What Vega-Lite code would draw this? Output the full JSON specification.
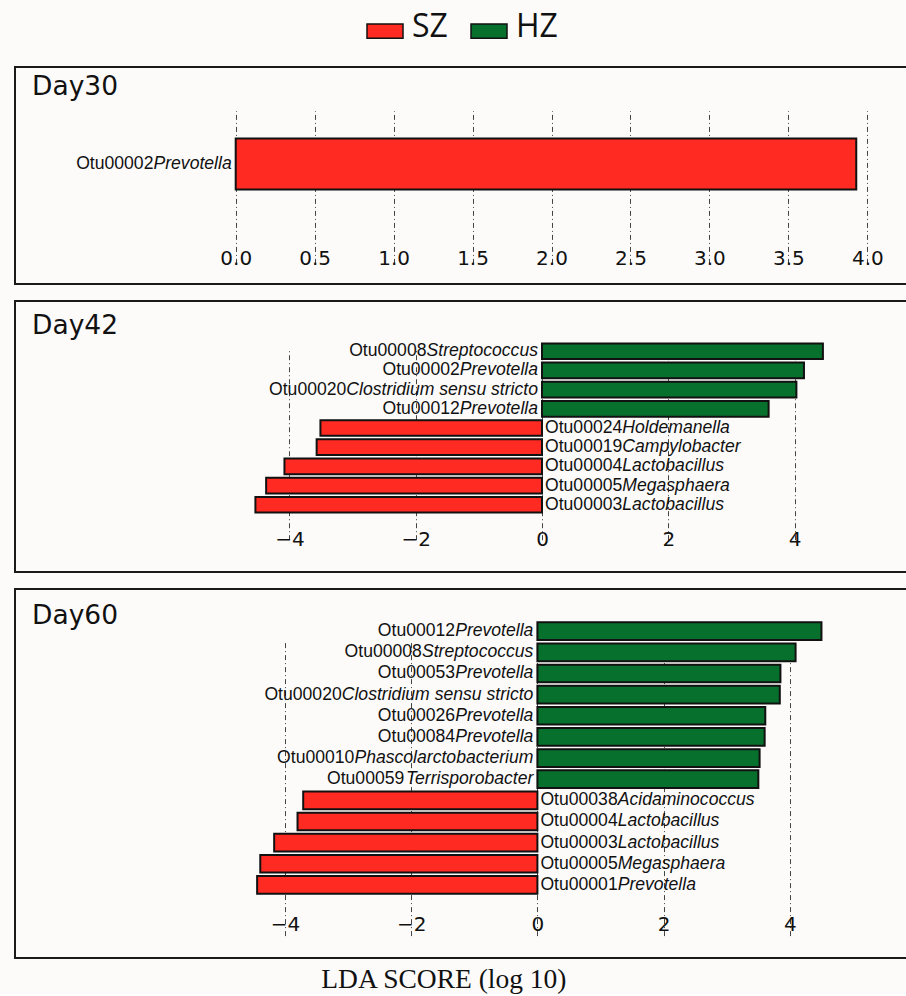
{
  "$schema": "https://vega.github.io/schema/vega-lite/v6.json",
  "background": "#fcfbfa",
  "padding": {"left": 14, "top": 8, "right": 0, "bottom": 0},
  "datasets": {
    "lefse": [
      {"day": "Day30", "otu": "Otu00002", "genus": "Prevotella", "lda": 3.93, "group": "SZ"},
      {"day": "Day42", "otu": "Otu00008", "genus": "Streptococcus", "lda": 4.45, "group": "HZ"},
      {"day": "Day42", "otu": "Otu00002", "genus": "Prevotella", "lda": 4.15, "group": "HZ"},
      {"day": "Day42", "otu": "Otu00020", "genus": "Clostridium sensu stricto", "lda": 4.03, "group": "HZ"},
      {"day": "Day42", "otu": "Otu00012", "genus": "Prevotella", "lda": 3.59, "group": "HZ"},
      {"day": "Day42", "otu": "Otu00024", "genus": "Holdemanella", "lda": -3.51, "group": "SZ"},
      {"day": "Day42", "otu": "Otu00019", "genus": "Campylobacter", "lda": -3.57, "group": "SZ"},
      {"day": "Day42", "otu": "Otu00004", "genus": "Lactobacillus", "lda": -4.08, "group": "SZ"},
      {"day": "Day42", "otu": "Otu00005", "genus": "Megasphaera", "lda": -4.37, "group": "SZ"},
      {"day": "Day42", "otu": "Otu00003", "genus": "Lactobacillus", "lda": -4.54, "group": "SZ"},
      {"day": "Day60", "otu": "Otu00012", "genus": "Prevotella", "lda": 4.50, "group": "HZ"},
      {"day": "Day60", "otu": "Otu00008", "genus": "Streptococcus", "lda": 4.09, "group": "HZ"},
      {"day": "Day60", "otu": "Otu00053", "genus": "Prevotella", "lda": 3.85, "group": "HZ"},
      {"day": "Day60", "otu": "Otu00020", "genus": "Clostridium sensu stricto", "lda": 3.84, "group": "HZ"},
      {"day": "Day60", "otu": "Otu00026", "genus": "Prevotella", "lda": 3.61, "group": "HZ"},
      {"day": "Day60", "otu": "Otu00084", "genus": "Prevotella", "lda": 3.60, "group": "HZ"},
      {"day": "Day60", "otu": "Otu00010", "genus": "Phascolarctobacterium", "lda": 3.52, "group": "HZ"},
      {"day": "Day60", "otu": "Otu00059", "genus": "Terrisporobacter", "lda": 3.50, "group": "HZ"},
      {"day": "Day60", "otu": "Otu00038", "genus": "Acidaminococcus", "lda": -3.71, "group": "SZ"},
      {"day": "Day60", "otu": "Otu00004", "genus": "Lactobacillus", "lda": -3.80, "group": "SZ"},
      {"day": "Day60", "otu": "Otu00003", "genus": "Lactobacillus", "lda": -4.17, "group": "SZ"},
      {"day": "Day60", "otu": "Otu00005", "genus": "Megasphaera", "lda": -4.39, "group": "SZ"},
      {"day": "Day60", "otu": "Otu00001", "genus": "Prevotella", "lda": -4.44, "group": "SZ"}
    ]
  },
  "data": {"name": "lefse"},
  "title": {
    "text": "LDA SCORE (log 10)",
    "orient": "bottom",
    "anchor": "middle",
    "font": "Liberation Serif",
    "fontSize": 27.5,
    "fontWeight": "normal",
    "color": "#111111",
    "baseline": "alphabetic",
    "offset": 28.6,
    "dx": -17.6
  },
  "spacing": 15,
  "vconcat": [
    {
      "width": 893,
      "height": 217,
      "transform": [{"filter": "datum.day == 'Day30'"}],
      "encoding": {
        "y": {"field": "otu", "type": "nominal", "sort": null,
              "axis": {"title": "Day30", "titleX": 16.5, "titleY": 27.3, "titleAngle": 0, "titleAlign": "left", "titleBaseline": "alphabetic", "titleFont": "DejaVu Sans", "titleFontSize": 26.5, "titleFontWeight": "normal", "titleColor": "#111111", "labels": false, "ticks": false, "domain": false, "grid": false},
              "scale": {"range": [20.6, 173.3], "paddingInner": 0, "paddingOuter": 3.376}}
      },
      "layer": [
        {
          "mark": {"type": "bar", "stroke": "#111111", "strokeWidth": 2},
          "encoding": {
            "x": {"field": "lda", "type": "quantitative",
                  "scale": {"domain": [-1.3977, 4.2577], "nice": false, "zero": false},
                  "axis": {"values": [0, 0.5, 1, 1.5, 2, 2.5, 3, 3.5, 4], "format": ".1f", "offset": -25.5, "title": null}},
            "x2": {"datum": 0},
            "color": {"field": "group", "type": "nominal",
                      "scale": {"domain": ["SZ", "HZ"], "range": ["#ff2b22", "#07702c"]},
                      "legend": {"title": null, "orient": "top", "direction": "horizontal", "symbolType": "M-1,-0.17H1V0.62H-1Z", "symbolSize": 1296, "symbolStrokeColor": "#111111", "symbolStrokeWidth": 1.5, "labelFont": "Open Sans", "labelFontSize": 32, "labelColor": "#111111", "labelOffset": 8, "columnPadding": 20, "offset": 23}}
          }
        },
        {
          "mark": {"type": "text", "font": "Liberation Sans", "fontSize": 17.6, "color": "#111111", "baseline": "middle",
                   "align": {"expr": "datum.lda > 0 ? 'right' : 'left'"},
                   "dx": {"expr": "datum.lda > 0 ? -4 - 17.6*(0.556*length(datum.genus) - 0.334*length(replace(datum.genus, regexp('[^ijl]','g'), '')) - 0.278*length(replace(datum.genus, regexp('[^ft ]','g'), '')) - 0.223*length(replace(datum.genus, regexp('[^r]','g'), '')) - 0.056*length(replace(datum.genus, regexp('[^cksvxyz]','g'), '')) + 0.277*length(replace(datum.genus, regexp('[^mM]','g'), '')) + 0.166*length(replace(datum.genus, regexp('[^CHw]','g'), '')) + 0.111*length(replace(datum.genus, regexp('[^SPA]','g'), '')) + 0.055*length(replace(datum.genus, regexp('[^T]','g'), ''))) : 3"}},
          "encoding": {"x": {"datum": 0}, "text": {"field": "otu"}}
        },
        {
          "mark": {"type": "text", "font": "Liberation Sans", "fontSize": 17.6, "fontStyle": "italic", "color": "#111111", "baseline": "middle",
                   "align": {"expr": "datum.lda > 0 ? 'right' : 'left'"},
                   "dx": {"expr": "datum.lda > 0 ? -4 : 80.3"}},
          "encoding": {"x": {"datum": 0}, "text": {"field": "genus"}}
        }
      ]
    },
    {
      "width": 893,
      "height": 271,
      "transform": [{"filter": "datum.day == 'Day42'"}],
      "encoding": {
        "y": {"field": "otu", "type": "nominal", "sort": null,
              "axis": {"title": "Day42", "titleX": 16.5, "titleY": 32.7, "titleAngle": 0, "titleAlign": "left", "titleBaseline": "alphabetic", "titleFont": "DejaVu Sans", "titleFontSize": 26.5, "titleFontWeight": "normal", "titleColor": "#111111", "labels": false, "ticks": false, "domain": false, "grid": false},
              "scale": {"range": [32.3, 221.7], "paddingInner": 0.184, "paddingOuter": 0.527}}
      },
      "layer": [
        {
          "mark": {"type": "bar", "stroke": "#111111", "strokeWidth": 2},
          "encoding": {
            "x": {"field": "lda", "type": "quantitative",
                  "scale": {"domain": [-8.3485, 5.798], "nice": false, "zero": false},
                  "axis": {"values": [-4, -2, 0, 2, 4], "format": "d", "offset": -32.4, "title": null}},
            "x2": {"datum": 0},
            "color": {"field": "group", "type": "nominal",
                      "scale": {"domain": ["SZ", "HZ"], "range": ["#ff2b22", "#07702c"]},
                      "legend": {"title": null, "orient": "top", "direction": "horizontal", "symbolType": "M-1,-0.17H1V0.62H-1Z", "symbolSize": 1296, "symbolStrokeColor": "#111111", "symbolStrokeWidth": 1.5, "labelFont": "Open Sans", "labelFontSize": 32, "labelColor": "#111111", "labelOffset": 8, "columnPadding": 20, "offset": 23}}
          }
        },
        {
          "mark": {"type": "text", "font": "Liberation Sans", "fontSize": 17.6, "color": "#111111", "baseline": "middle",
                   "align": {"expr": "datum.lda > 0 ? 'right' : 'left'"},
                   "dx": {"expr": "datum.lda > 0 ? -4 - 17.6*(0.556*length(datum.genus) - 0.334*length(replace(datum.genus, regexp('[^ijl]','g'), '')) - 0.278*length(replace(datum.genus, regexp('[^ft ]','g'), '')) - 0.223*length(replace(datum.genus, regexp('[^r]','g'), '')) - 0.056*length(replace(datum.genus, regexp('[^cksvxyz]','g'), '')) + 0.277*length(replace(datum.genus, regexp('[^mM]','g'), '')) + 0.166*length(replace(datum.genus, regexp('[^CHw]','g'), '')) + 0.111*length(replace(datum.genus, regexp('[^SPA]','g'), '')) + 0.055*length(replace(datum.genus, regexp('[^T]','g'), ''))) : 3"}},
          "encoding": {"x": {"datum": 0}, "text": {"field": "otu"}}
        },
        {
          "mark": {"type": "text", "font": "Liberation Sans", "fontSize": 17.6, "fontStyle": "italic", "color": "#111111", "baseline": "middle",
                   "align": {"expr": "datum.lda > 0 ? 'right' : 'left'"},
                   "dx": {"expr": "datum.lda > 0 ? -4 : 80.3"}},
          "encoding": {"x": {"datum": 0}, "text": {"field": "genus"}}
        }
      ]
    },
    {
      "width": 893,
      "height": 369,
      "transform": [{"filter": "datum.day == 'Day60'"}],
      "encoding": {
        "y": {"field": "otu", "type": "nominal", "sort": null,
              "axis": {"title": "Day60", "titleX": 16.5, "titleY": 34, "titleAngle": 0, "titleAlign": "left", "titleBaseline": "alphabetic", "titleFont": "DejaVu Sans", "titleFontSize": 26.5, "titleFontWeight": "normal", "titleColor": "#111111", "labels": false, "ticks": false, "domain": false, "grid": false},
              "scale": {"range": [22.4, 315.7], "paddingInner": 0.163, "paddingOuter": 0.518}}
      },
      "layer": [
        {
          "mark": {"type": "bar", "stroke": "#111111", "strokeWidth": 2},
          "encoding": {
            "x": {"field": "lda", "type": "quantitative",
                  "scale": {"domain": [-8.2756, 5.871], "nice": false, "zero": false},
                  "axis": {"values": [-4, -2, 0, 2, 4], "format": "d", "offset": -33.5, "title": null}},
            "x2": {"datum": 0},
            "color": {"field": "group", "type": "nominal",
                      "scale": {"domain": ["SZ", "HZ"], "range": ["#ff2b22", "#07702c"]},
                      "legend": {"title": null, "orient": "top", "direction": "horizontal", "symbolType": "M-1,-0.17H1V0.62H-1Z", "symbolSize": 1296, "symbolStrokeColor": "#111111", "symbolStrokeWidth": 1.5, "labelFont": "Open Sans", "labelFontSize": 32, "labelColor": "#111111", "labelOffset": 8, "columnPadding": 20, "offset": 23}}
          }
        },
        {
          "mark": {"type": "text", "font": "Liberation Sans", "fontSize": 17.6, "color": "#111111", "baseline": "middle",
                   "align": {"expr": "datum.lda > 0 ? 'right' : 'left'"},
                   "dx": {"expr": "datum.lda > 0 ? -4 - 17.6*(0.556*length(datum.genus) - 0.334*length(replace(datum.genus, regexp('[^ijl]','g'), '')) - 0.278*length(replace(datum.genus, regexp('[^ft ]','g'), '')) - 0.223*length(replace(datum.genus, regexp('[^r]','g'), '')) - 0.056*length(replace(datum.genus, regexp('[^cksvxyz]','g'), '')) + 0.277*length(replace(datum.genus, regexp('[^mM]','g'), '')) + 0.166*length(replace(datum.genus, regexp('[^CHw]','g'), '')) + 0.111*length(replace(datum.genus, regexp('[^SPA]','g'), '')) + 0.055*length(replace(datum.genus, regexp('[^T]','g'), ''))) : 3"}},
          "encoding": {"x": {"datum": 0}, "text": {"field": "otu"}}
        },
        {
          "mark": {"type": "text", "font": "Liberation Sans", "fontSize": 17.6, "fontStyle": "italic", "color": "#111111", "baseline": "middle",
                   "align": {"expr": "datum.lda > 0 ? 'right' : 'left'"},
                   "dx": {"expr": "datum.lda > 0 ? -4 : 80.3"}},
          "encoding": {"x": {"datum": 0}, "text": {"field": "genus"}}
        }
      ]
    }
  ],
  "config": {
    "view": {"stroke": "#1a1a1a", "strokeWidth": 2},
    "legend": {"layout": {"top": {"anchor": "middle"}}},
    "axis": {
      "grid": true,
      "gridDash": [5, 3, 1, 3],
      "gridColor": "#444444",
      "gridWidth": 1,
      "domain": false,
      "ticks": false,
      "tickSize": 0,
      "labelPadding": 0,
      "labelBaseline": "middle",
      "labelFont": "DejaVu Sans",
      "labelFontSize": 20,
      "labelColor": "#111111",
      "labelFlush": false,
      "labelOverlap": false,
      "zindex": 1
    }
  }
}
